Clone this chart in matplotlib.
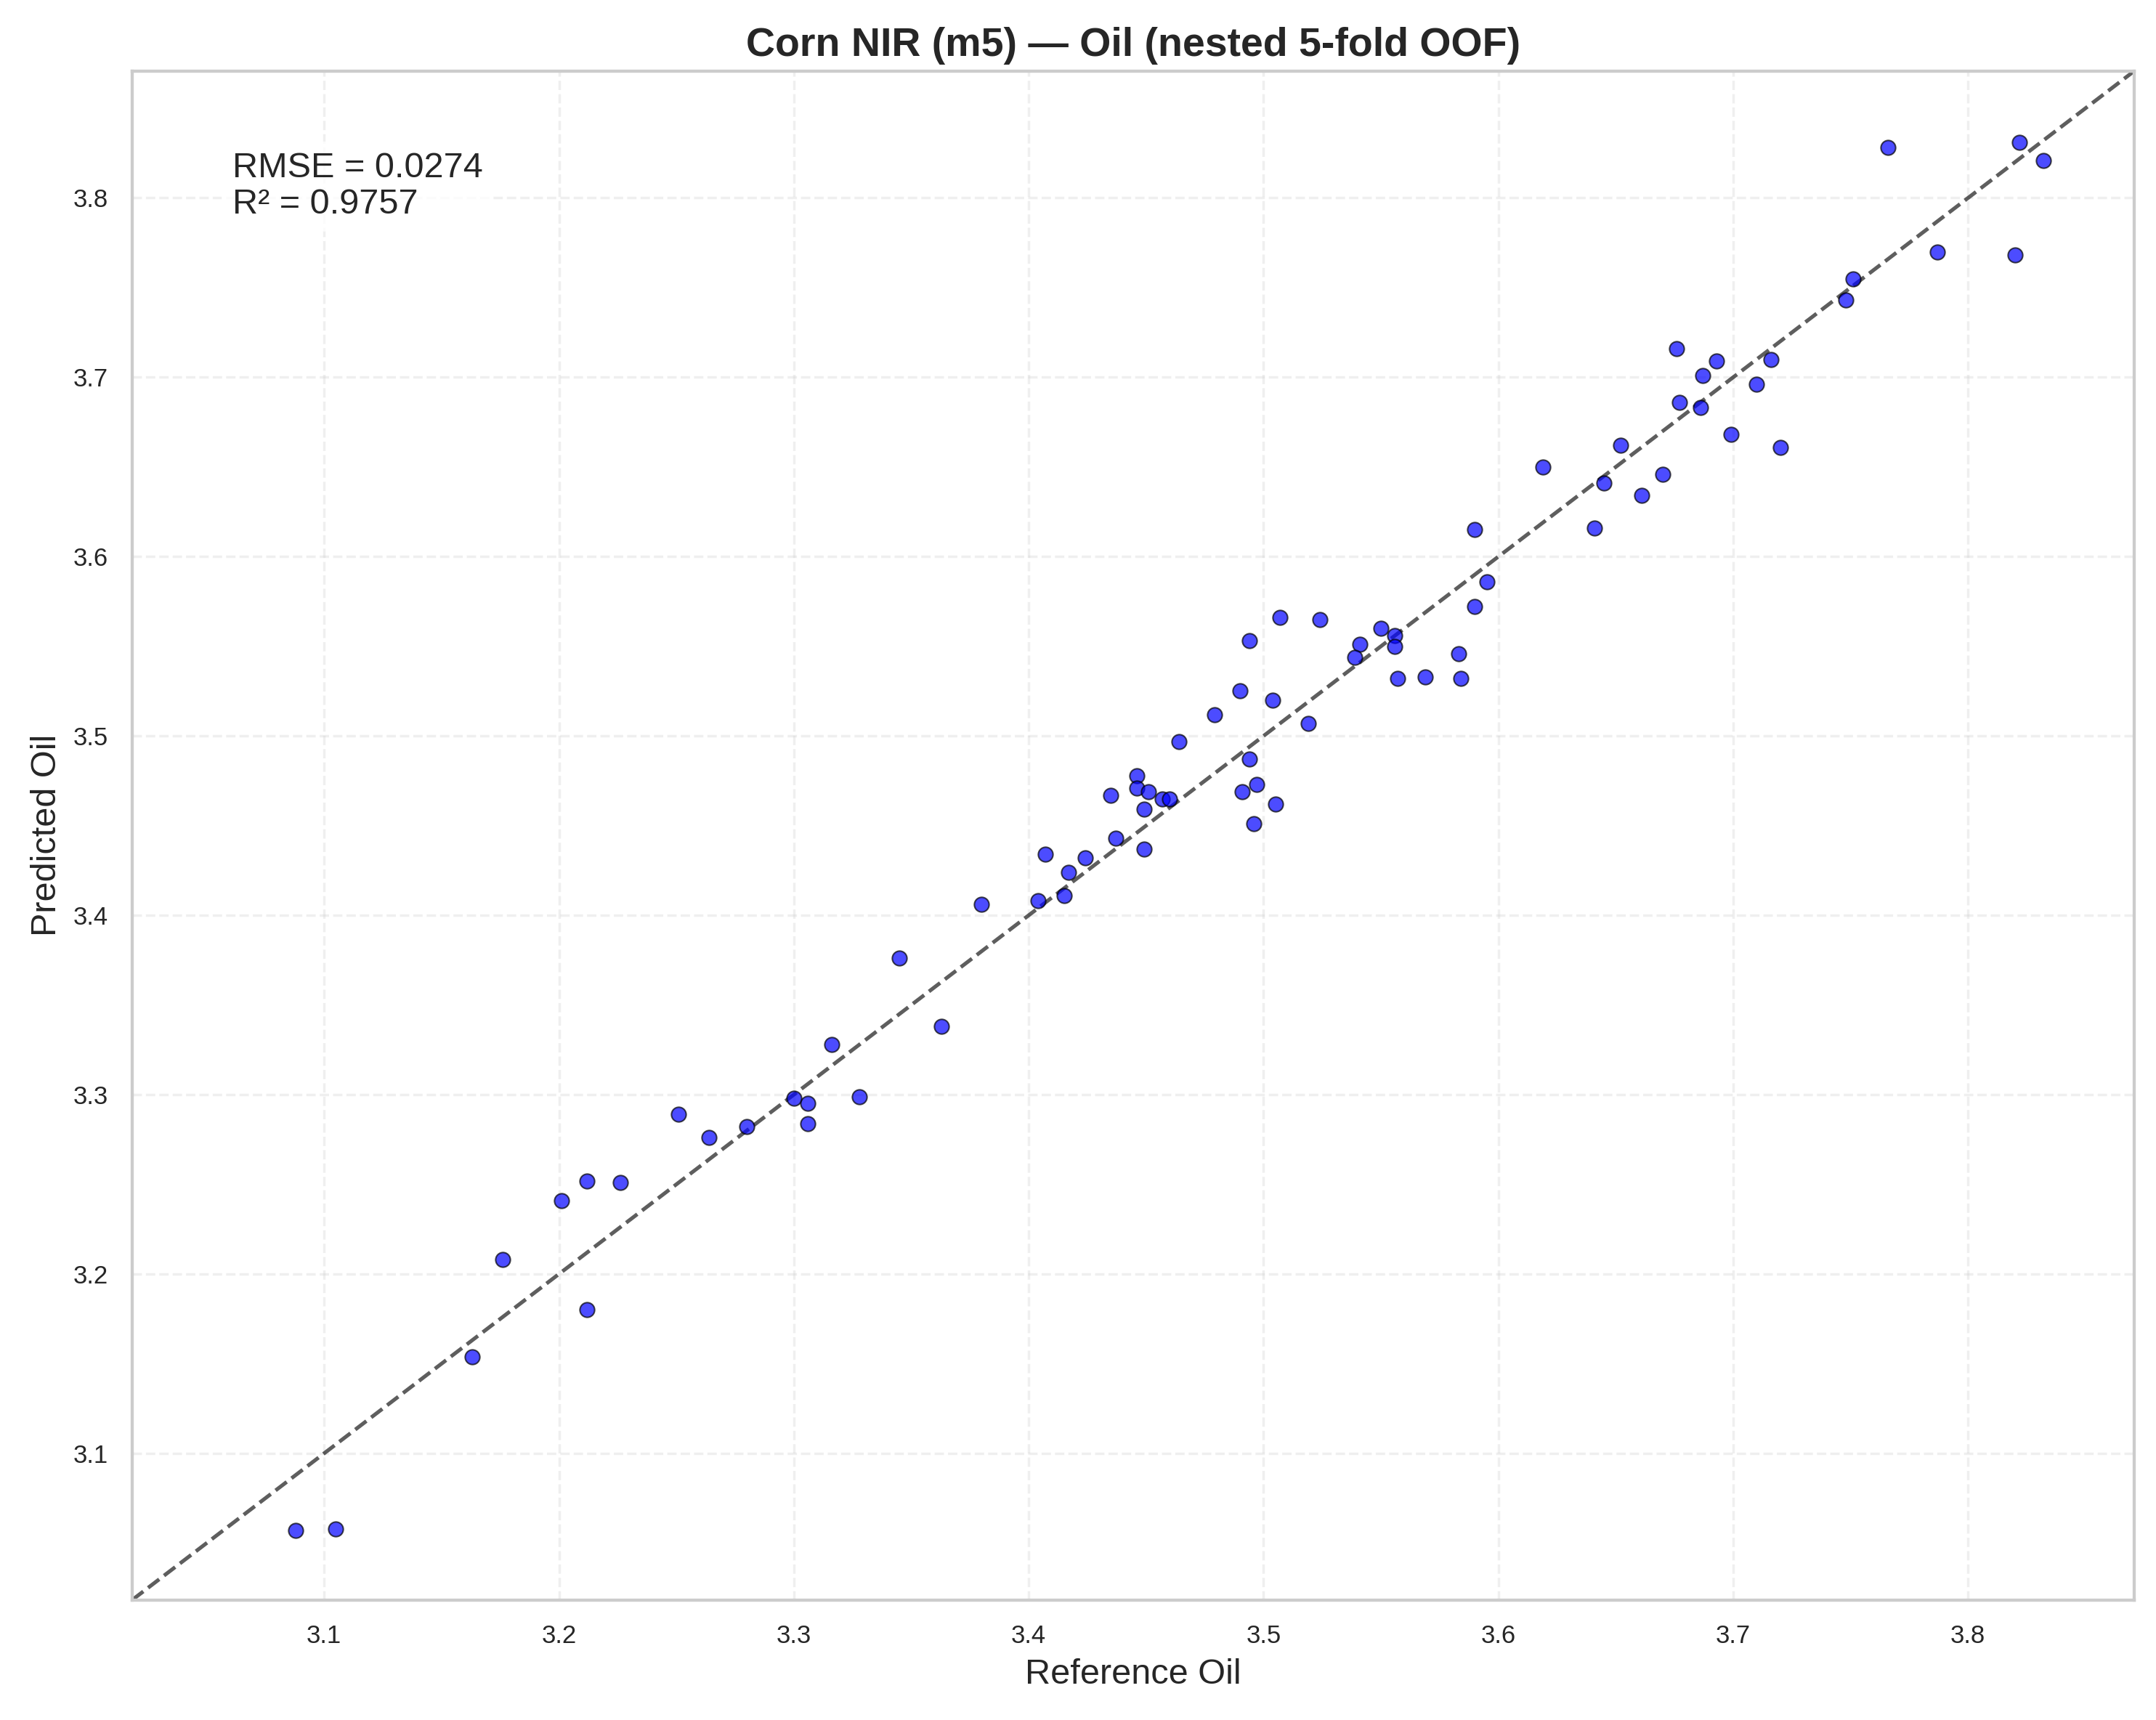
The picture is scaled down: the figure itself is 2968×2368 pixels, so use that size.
# -*- coding: utf-8 -*-
"""
Corn NIR (m5) - oil, out-of-fold predictions vs reference values.
"""
import numpy as np
import matplotlib
matplotlib.use("Agg")
import matplotlib.pyplot as plt
import seaborn as sns

# --- data ---
reference_oil = [
    3.088, 3.105, 3.163, 3.176, 3.212, 3.201, 3.212, 3.226, 3.251, 3.264,
    3.280, 3.300, 3.306, 3.306, 3.328, 3.316, 3.345, 3.363, 3.380, 3.404,
    3.415, 3.407, 3.417, 3.424, 3.449, 3.437, 3.449, 3.435, 3.446, 3.446,
    3.451, 3.457, 3.460, 3.464, 3.479, 3.490, 3.494, 3.504, 3.494, 3.497,
    3.491, 3.505, 3.496, 3.507, 3.524, 3.519, 3.550, 3.556, 3.556, 3.541,
    3.539, 3.557, 3.569, 3.584, 3.583, 3.590, 3.595, 3.590, 3.641, 3.619,
    3.645, 3.652, 3.661, 3.670, 3.677, 3.676, 3.686, 3.687, 3.693, 3.699,
    3.710, 3.716, 3.720, 3.748, 3.751, 3.766, 3.787, 3.820, 3.822, 3.832,
]
predicted_oil = [
    3.057, 3.058, 3.154, 3.208, 3.180, 3.241, 3.252, 3.251, 3.289, 3.276,
    3.282, 3.298, 3.295, 3.284, 3.299, 3.328, 3.376, 3.338, 3.406, 3.408,
    3.411, 3.434, 3.424, 3.432, 3.437, 3.443, 3.459, 3.467, 3.478, 3.471,
    3.469, 3.465, 3.465, 3.497, 3.512, 3.525, 3.553, 3.520, 3.487, 3.473,
    3.469, 3.462, 3.451, 3.566, 3.565, 3.507, 3.560, 3.556, 3.550, 3.551,
    3.544, 3.532, 3.533, 3.532, 3.546, 3.572, 3.586, 3.615, 3.616, 3.650,
    3.641, 3.662, 3.634, 3.646, 3.686, 3.716, 3.683, 3.701, 3.709, 3.668,
    3.696, 3.710, 3.661, 3.743, 3.755, 3.828, 3.770, 3.768, 3.831, 3.821,
]
rmse_text = "RMSE = 0.0274"
r2_text = "R² = 0.9757"

sns.set_theme(style="whitegrid")
plt.rcParams['font.family'] = ['Liberation Sans', 'DejaVu Sans']


def plot_oof(y_true, y_pred):
    y_true = np.asarray(y_true)
    y_pred = np.asarray(y_pred)

    fig, ax = plt.subplots(figsize=(2968 / 250, 2368 / 250), dpi=250)
    fig.subplots_adjust(left=0.0613, right=0.9899, bottom=0.0698, top=0.9587)

    ax.scatter(y_true, y_pred, s=34, color='blue', alpha=0.7,
               edgecolor='black', linewidth=0.6, zorder=3)

    lo = min(y_true.min(), y_pred.min())
    hi = max(y_true.max(), y_pred.max())
    pad = 0.05 * (hi - lo)
    lims = [lo - pad, hi + pad]
    ax.plot(lims, lims, 'k--', alpha=0.7, linewidth=1.5, zorder=2)
    ax.set_xlim(lims)
    ax.set_ylim(lims)

    ax.grid(True, linestyle='--', alpha=0.3)
    ax.set_xlabel("Reference Oil", fontsize=14)
    ax.set_ylabel("Predicted Oil", fontsize=14)
    ax.set_title("Corn NIR (m5) — Oil (nested 5-fold OOF)",
                 fontsize=16, fontweight='bold')
    ax.tick_params(labelsize=10)

    ax.text(0.05, 0.947, f"{rmse_text}\n{r2_text}", transform=ax.transAxes,
            fontsize=14, va='top', ha='left', linespacing=1.14,
            bbox=dict(boxstyle='round', facecolor='white', edgecolor='none', alpha=0.8))

    fig.savefig("out.png", dpi=250)
    plt.close(fig)


if __name__ == "__main__":
    plot_oof(reference_oil, predicted_oil)
